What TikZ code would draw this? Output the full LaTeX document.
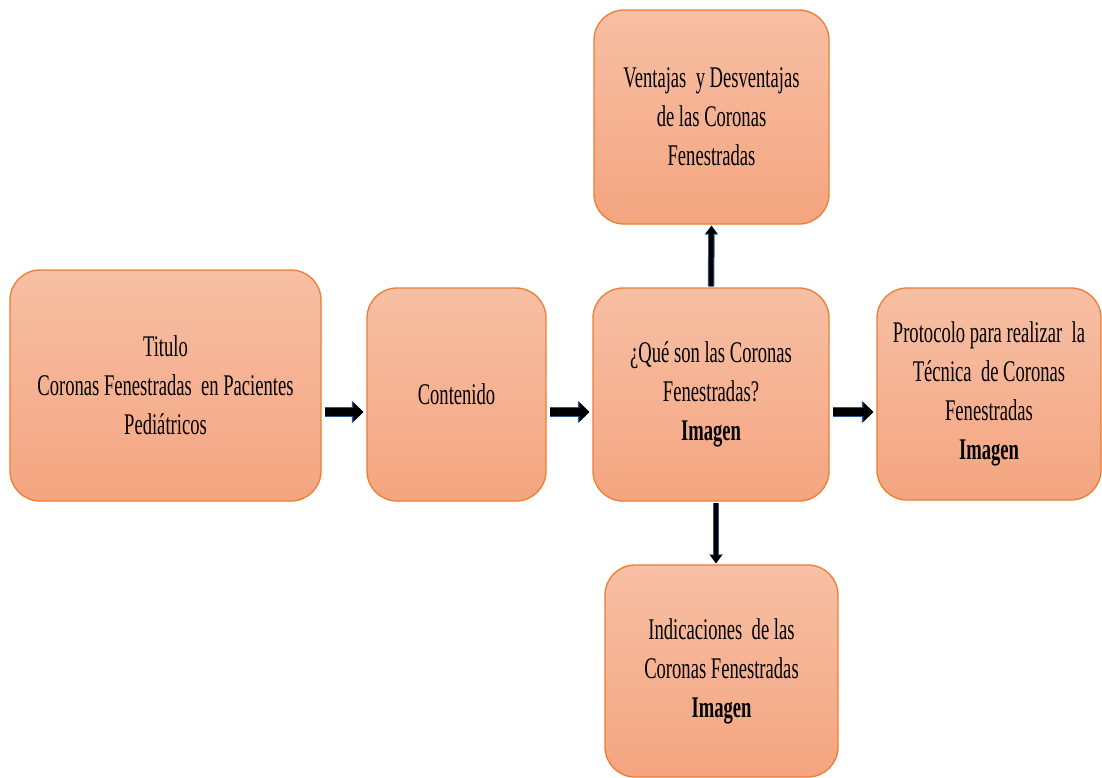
\documentclass[tikz,border=0pt]{standalone}
\usepackage{fontspec}
\setmainfont{Liberation Serif}[FakeStretch=0.62]
\usepackage{tikz}
\usetikzlibrary{arrows.meta}

\definecolor{cajaArriba}{RGB}{247,191,164}
\definecolor{cajaAbajo}{RGB}{244,165,128}
\definecolor{borde}{RGB}{237,125,49}
\definecolor{azulflecha}{RGB}{47,85,151}

\begin{document}
\begin{tikzpicture}
        [x=1pt,y=-1pt,thick,
         caja/.style={rectangle,rounded corners=30pt,draw=borde,line width=1.3pt,
                      top color=cajaArriba,bottom color=cajaAbajo,align=center,
                      font=\fontsize{30}{39}\selectfont,inner sep=0pt},
         flecha/.style={line width=8pt,draw=black,-{Triangle[width=19pt,length=10pt]},
                        preaction={draw=azulflecha,line width=10.5pt,-{Triangle[width=22pt,length=11.5pt]}},
                        shorten <=3pt,shorten >=3pt},
         flechaV/.style={line width=4.5pt,draw=black,-{Triangle[width=11pt,length=8pt]},
                        preaction={draw=azulflecha,line width=6.5pt,-{Triangle[width=13pt,length=9pt]}},
                        shorten <=1pt,shorten >=1pt}]
        \useasboundingbox (0,0) rectangle (1102,777);
        \node[caja,minimum width=311pt,minimum height=231pt] (titulo) at (165.5,385.5)
            {Titulo\\Coronas Fenestradas\ \ en Pacientes\\Pediátricos};
        \node[caja,minimum width=179pt,minimum height=213pt] (contenido) at (456.5,394.5) {Contenido};
        \node[caja,minimum width=236pt,minimum height=213pt] (que) at (711,394.5)
            {¿Qué son las Coronas\\Fenestradas?\\\textbf{Imagen}};
        \node[caja,minimum width=235pt,minimum height=214pt] (ventajas) at (711.5,117)
            {Ventajas\ \ y Desventajas\\de las Coronas\\Fenestradas};
        \node[caja,minimum width=224pt,minimum height=212pt] (protocolo) at (989,394)
            {Protocolo para realizar\ \ la\\Técnica\ \ de Coronas\\Fenestradas\\\textbf{Imagen}};
        \node[caja,minimum width=233pt,minimum height=212pt] (indicaciones) at (721.5,671)
            {Indicaciones\ \ de las\\Coronas Fenestradas\\\textbf{Imagen}};

        \draw [flecha] ([yshift=-26.5pt]titulo.east) -- ([yshift=-26.5pt]titulo.east -| contenido.west);
        \draw [flecha] ([yshift=-17.5pt]contenido.east) -- ([yshift=-17.5pt]contenido.east -| que.west);
        \draw [flecha] ([yshift=-17.5pt]que.east) -- ([yshift=-17.5pt]que.east -| protocolo.west);
        \draw [flechaV] (que.north) -- (ventajas.south);
        \draw [flechaV] ([xshift=5pt]que.south) -- ([xshift=5pt]que.south |- indicaciones.north);
    
    \end{tikzpicture}
\end{document}
